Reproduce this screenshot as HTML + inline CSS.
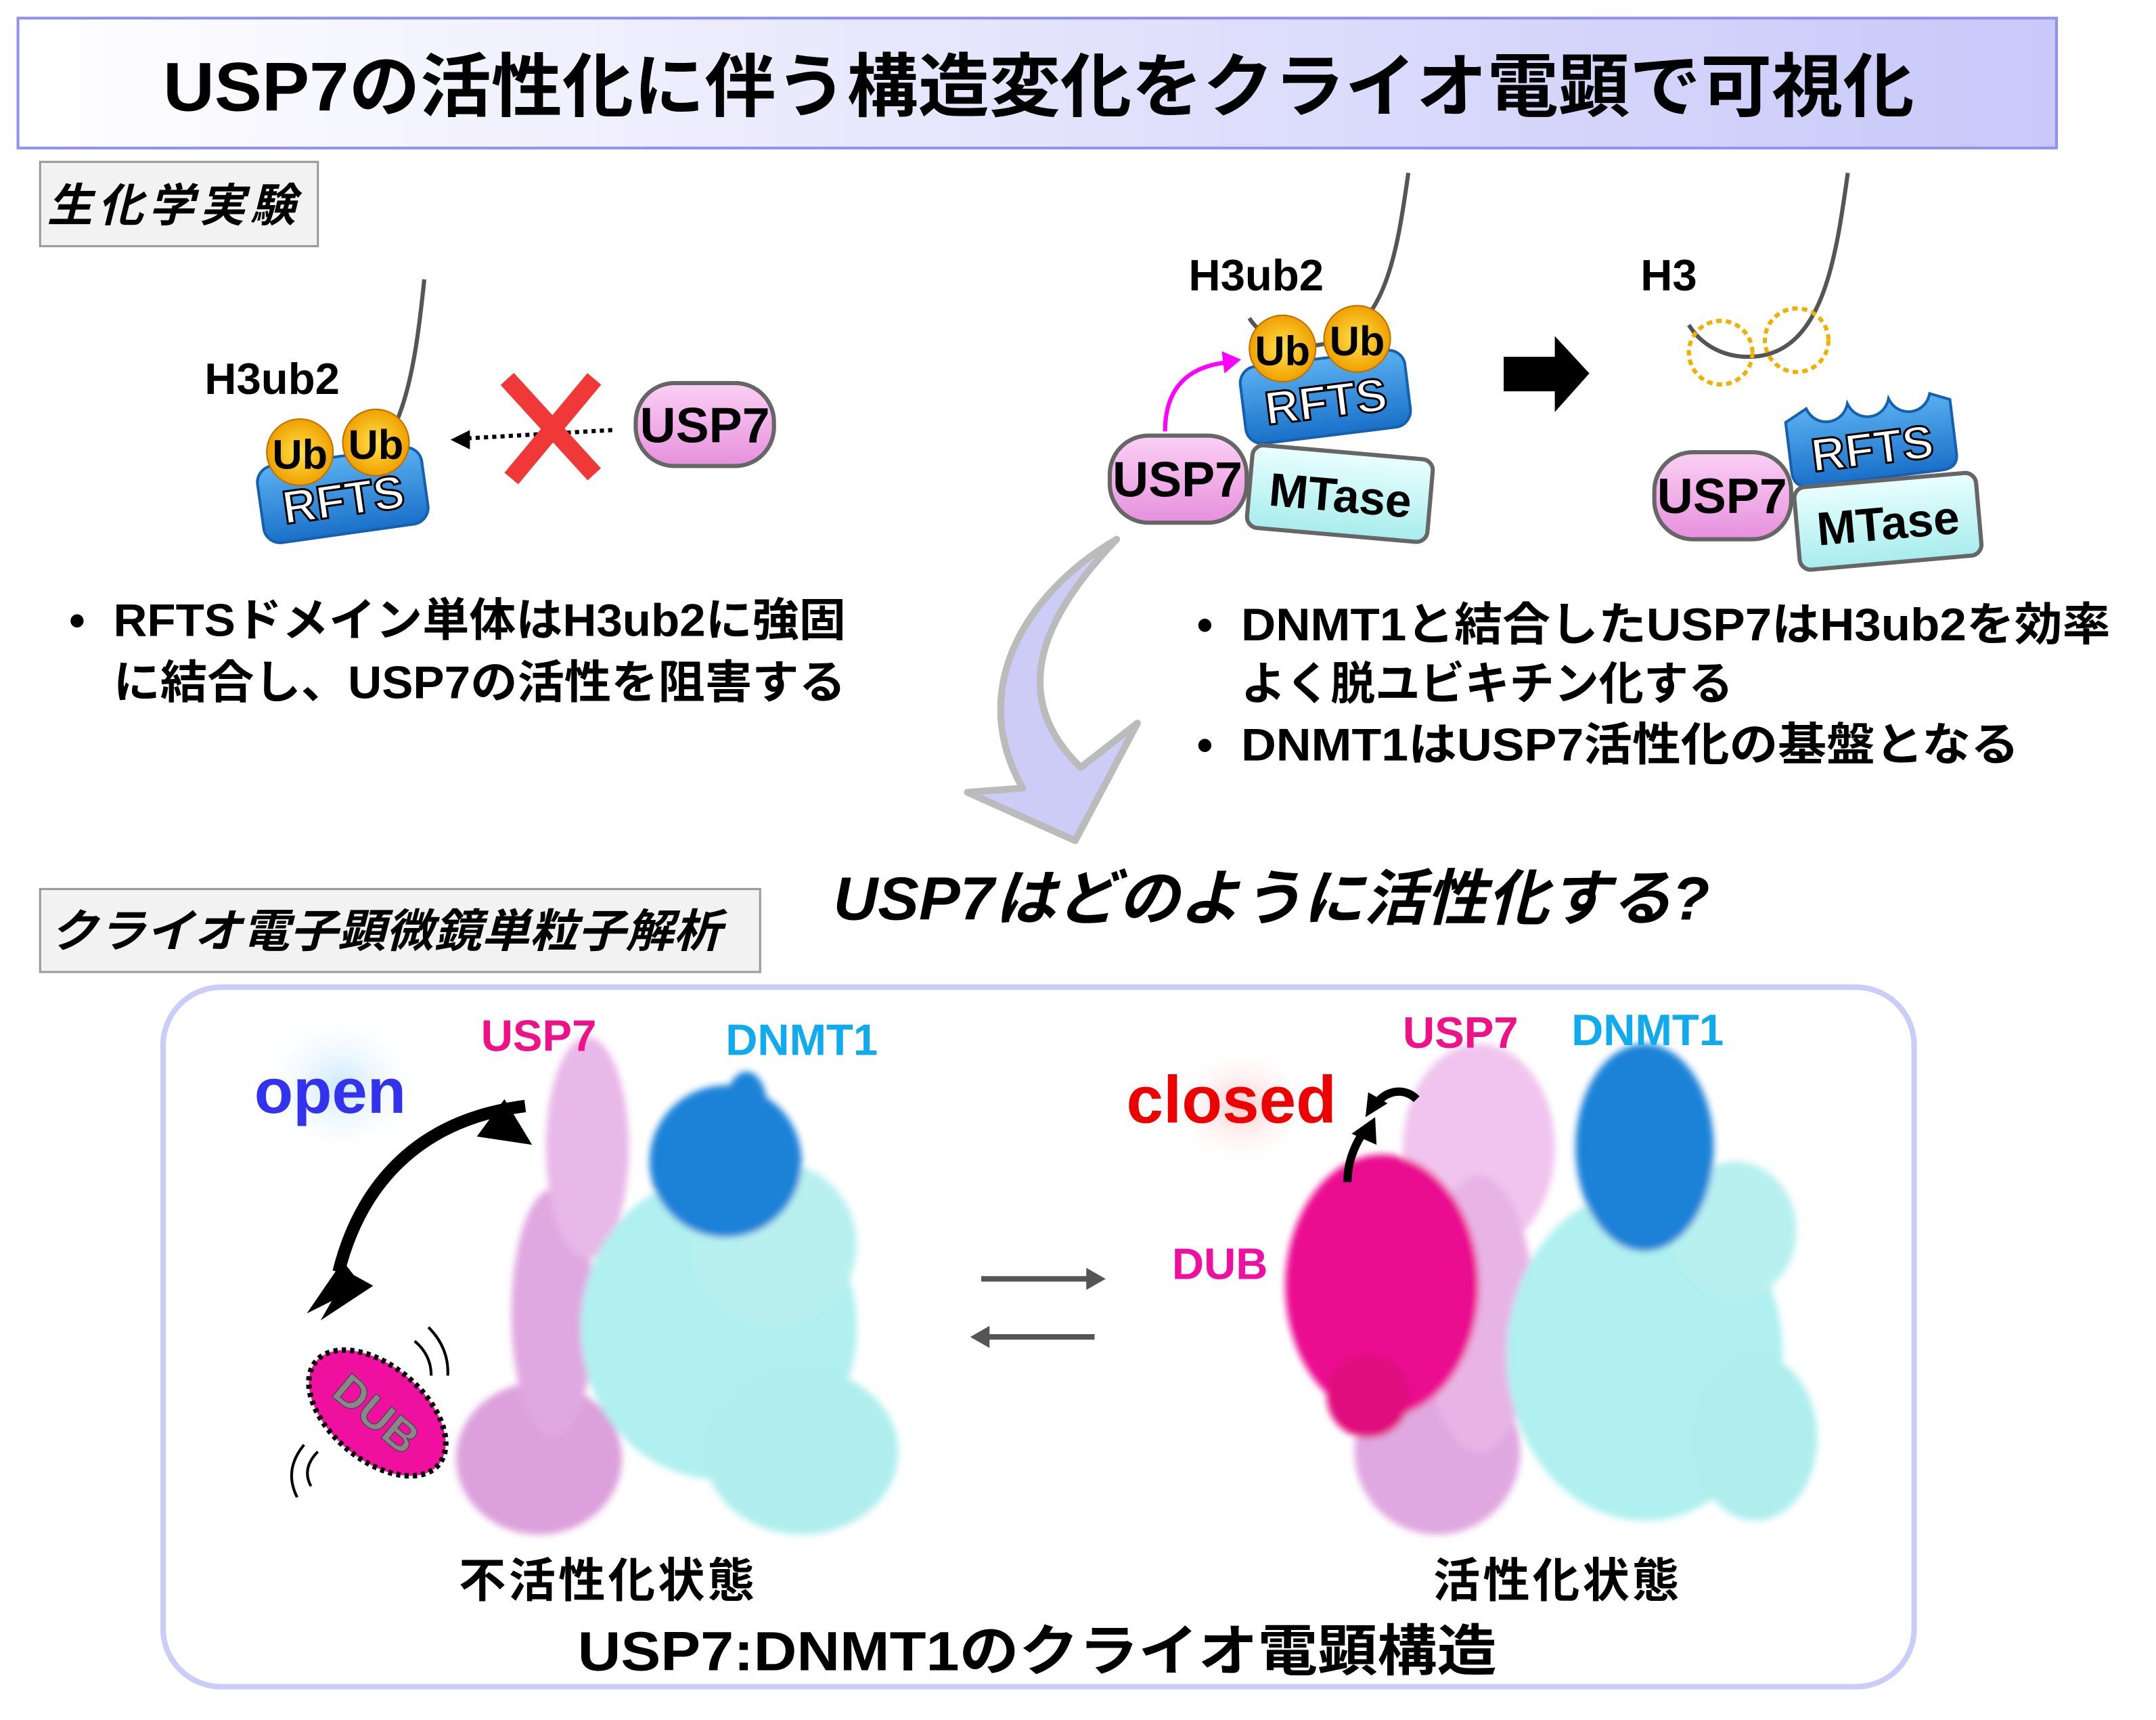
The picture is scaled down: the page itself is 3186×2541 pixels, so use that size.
<!DOCTYPE html>
<html><head><meta charset="utf-8">
<style>
html,body{margin:0;padding:0;background:#fff;}
svg{display:block;}
text{font-family:"Liberation Sans","Noto Sans CJK JP",sans-serif;font-weight:bold;}
</style></head>
<body>
<svg width="3186" height="2541" viewBox="0 0 1560 1244" xmlns="http://www.w3.org/2000/svg">
<defs>
<linearGradient id="tg" x1="0" y1="0" x2="1" y2="0"><stop offset="0" stop-color="#ffffff"/><stop offset="1" stop-color="#c8c8fa"/></linearGradient>
<linearGradient id="blue" x1="0" y1="0" x2="0" y2="1"><stop offset="0" stop-color="#5ab0f0"/><stop offset="1" stop-color="#1a70c8"/></linearGradient>
<linearGradient id="pink" x1="0" y1="0" x2="0" y2="1"><stop offset="0" stop-color="#fbd0f4"/><stop offset="1" stop-color="#e690dc"/></linearGradient>
<linearGradient id="cyan" x1="0" y1="0" x2="0" y2="1"><stop offset="0" stop-color="#eaffff"/><stop offset="1" stop-color="#a8ecec"/></linearGradient>
<radialGradient id="ub"><stop offset="0" stop-color="#ffe24a"/><stop offset="1" stop-color="#f0a000"/></radialGradient>
<radialGradient id="gb"><stop offset="0" stop-color="#cce8ff"/><stop offset="1" stop-color="#ffffff" stop-opacity="0"/></radialGradient>
<radialGradient id="gr"><stop offset="0" stop-color="#ffcccc"/><stop offset="1" stop-color="#ffffff" stop-opacity="0"/></radialGradient>
<filter id="bl"><feGaussianBlur stdDeviation="2.5"/></filter>
</defs>

<rect x="13" y="13" width="1475" height="94" fill="url(#tg)" stroke="#9090ee" stroke-width="2"/>
<text x="118" y="80" font-size="50" textLength="1267" lengthAdjust="spacingAndGlyphs">USP7の活性化に伴う構造変化をクライオ電顕で可視化</text>

<rect x="29" y="117" width="201" height="61" fill="#f2f2f2" stroke="#999" stroke-width="1.5"/>
<text x="34" y="160" font-size="33" font-style="italic" font-weight="normal" textLength="180">生化学実験</text>

<path d="M307,202 C300,270 290,345 237,345 C215,345 200,335 195,325" fill="none" stroke="#555" stroke-width="3"/>
<text x="148" y="285" font-size="32">H3ub2</text>
<g transform="rotate(-8 248 358)"><rect x="188" y="330" width="120" height="56" rx="12" fill="url(#blue)" stroke="#1560b0" stroke-width="2"/>
<text x="248" y="373" font-size="34" fill="#fff" stroke="#000" stroke-width="1.5" text-anchor="middle">RFTS</text></g>
<circle cx="217" cy="327" r="24" fill="url(#ub)" stroke="#c07000"/><circle cx="272" cy="320" r="24" fill="url(#ub)" stroke="#c07000"/>
<text x="217" y="339" font-size="30" text-anchor="middle">Ub</text><text x="272" y="332" font-size="30" text-anchor="middle">Ub</text>
<line x1="443" y1="311" x2="338" y2="317" stroke="#000" stroke-width="3" stroke-dasharray="3,3"/>
<polygon points="326,318 340,311 340,325" fill="#000"/>
<line x1="367" y1="274" x2="430" y2="343" stroke="#f03838" stroke-width="13"/>
<line x1="430" y1="274" x2="370" y2="346" stroke="#f03838" stroke-width="13"/>
<rect x="460" y="277" width="100" height="60" rx="28" fill="url(#pink)" stroke="#666" stroke-width="3"/>
<text x="510" y="320" font-size="36" text-anchor="middle">USP7</text>

<path d="M1019,125 C1010,190 1000,250 945,250 C925,250 910,240 904,230" fill="none" stroke="#555" stroke-width="3"/>
<text x="860" y="210" font-size="32">H3ub2</text>
<g transform="rotate(-7 959 287)"><rect x="899" y="259" width="120" height="56" rx="12" fill="url(#blue)" stroke="#1560b0" stroke-width="2"/>
<text x="959" y="302" font-size="34" fill="#fff" stroke="#000" stroke-width="1.5" text-anchor="middle">RFTS</text></g>
<circle cx="928" cy="252" r="24" fill="url(#ub)" stroke="#c07000"/><circle cx="982" cy="245" r="24" fill="url(#ub)" stroke="#c07000"/>
<text x="928" y="264" font-size="30" text-anchor="middle">Ub</text><text x="982" y="257" font-size="30" text-anchor="middle">Ub</text>
<path d="M843,312 C843,280 860,265 888,262" fill="none" stroke="#ff00ff" stroke-width="3"/>
<polygon points="898,260 884,254 886,270" fill="#ff00ff"/>
<g transform="rotate(5 970 357)"><rect x="904" y="327" width="131" height="60" rx="8" fill="url(#cyan)" stroke="#666" stroke-width="3"/>
<text x="970" y="370" font-size="34" text-anchor="middle">MTase</text></g>
<rect x="803" y="315" width="99" height="63" rx="28" fill="url(#pink)" stroke="#666" stroke-width="3"/>
<text x="852" y="359" font-size="36" text-anchor="middle">USP7</text>
<polygon points="1088,258 1125,258 1125,243 1150,270 1125,298 1125,283 1088,283" fill="#000"/>

<path d="M1337,125 C1328,190 1318,258 1265,258 C1245,258 1230,248 1222,235" fill="none" stroke="#555" stroke-width="3"/>
<text x="1187" y="210" font-size="32">H3</text>
<circle cx="1245" cy="255" r="23" fill="none" stroke="#f0b000" stroke-width="3" stroke-dasharray="4,3"/>
<circle cx="1300" cy="246" r="23" fill="none" stroke="#f0b000" stroke-width="3" stroke-dasharray="4,3"/>
<g transform="rotate(-7 1354 318)"><path d="M1294,298 L1310,290 C1315,305 1335,305 1340,290 C1345,305 1365,305 1370,290 C1375,305 1395,305 1400,290 L1414,296 L1414,335 Q1414,346 1402,346 L1306,346 Q1294,346 1294,334 Z" fill="url(#blue)" stroke="#1560b0" stroke-width="2"/>
<text x="1354" y="336" font-size="34" fill="#fff" stroke="#000" stroke-width="1.5" text-anchor="middle">RFTS</text></g>
<g transform="rotate(-5 1366 377)"><rect x="1300" y="347" width="132" height="60" rx="8" fill="url(#cyan)" stroke="#666" stroke-width="3"/>
<text x="1366" y="390" font-size="34" text-anchor="middle">MTase</text></g>
<rect x="1197" y="327" width="99" height="63" rx="28" fill="url(#pink)" stroke="#666" stroke-width="3"/>
<text x="1246" y="371" font-size="36" text-anchor="middle">USP7</text>

<g font-size="33">
<text x="50" y="460">•</text>
<text x="82" y="460" textLength="530" lengthAdjust="spacingAndGlyphs">RFTSドメイン単体はH3ub2に強固</text>
<text x="82" y="505" textLength="530" lengthAdjust="spacingAndGlyphs">に結合し、USP7の活性を阻害する</text>
<text x="866" y="463">•</text>
<text x="898" y="463" textLength="629" lengthAdjust="spacingAndGlyphs">DNMT1と結合したUSP7はH3ub2を効率</text>
<text x="898" y="506" textLength="356" lengthAdjust="spacingAndGlyphs">よく脱ユビキチン化する</text>
<text x="866" y="550">•</text>
<text x="898" y="550" textLength="563" lengthAdjust="spacingAndGlyphs">DNMT1はUSP7活性化の基盤となる</text>
</g>

<path d="M808,390 C760,440 725,500 782,555 L823,523 L778,608 L700,573 L740,570 C700,500 740,430 808,390 Z" fill="#ccccf6" stroke="#bbb" stroke-width="5" stroke-linejoin="round"/>

<text x="603" y="665" font-size="44" font-style="italic" textLength="634" lengthAdjust="spacingAndGlyphs">USP7はどのように活性化する?</text>
<rect x="29" y="643" width="521" height="60" fill="#f2f2f2" stroke="#999" stroke-width="1.5"/>
<text x="36" y="685" font-size="33" font-style="italic" font-weight="normal" textLength="486" lengthAdjust="spacingAndGlyphs">クライオ電子顕微鏡単粒子解析</text>

<rect x="118" y="714" width="1267" height="506" rx="42" fill="#fff" stroke="#ccccf8" stroke-width="4"/>

<g filter="url(#bl)">
<ellipse cx="390" cy="1055" rx="60" ry="55" fill="#dca0dc"/>
<ellipse cx="400" cy="950" rx="30" ry="90" fill="#e0a8e0"/>
<ellipse cx="425" cy="830" rx="30" ry="80" fill="#e8b8e8"/>
<ellipse cx="520" cy="960" rx="100" ry="110" fill="#b0f0f0"/>
<ellipse cx="580" cy="1050" rx="70" ry="60" fill="#b0eeee"/>
<ellipse cx="560" cy="900" rx="60" ry="60" fill="#b8f0f0"/>
<ellipse cx="525" cy="840" rx="55" ry="55" fill="#1a82d8"/>
<ellipse cx="540" cy="800" rx="15" ry="25" fill="#1a82d8"/>
</g>
<path d="M380,800 C300,810 260,860 245,920" fill="none" stroke="#000" stroke-width="9"/>
<polygon points="365,795 385,828 345,822" fill="#000"/>
<polygon points="222,950 248,912 262,930" fill="#000"/>
<polygon points="232,955 270,930 252,920" fill="#000"/>
<g transform="rotate(40 273 1022)"><ellipse cx="273" cy="1022" rx="58" ry="34" fill="#f010a0" stroke="#000" stroke-width="4" stroke-dasharray="3,3"/>
<text x="273" y="1034" font-size="32" fill="#888" stroke="#444" stroke-width="0.6" font-weight="normal" text-anchor="middle">DUB</text></g>
<path d="M300,970 q12,10 12,25 M310,960 q15,15 14,35" fill="none" stroke="#000" stroke-width="2"/>
<path d="M230,1050 q-12,12 -5,25 M220,1045 q-15,18 -5,38" fill="none" stroke="#000" stroke-width="2"/>
<ellipse cx="246" cy="785" rx="62" ry="55" fill="url(#gb)"/>
<text x="184" y="805" font-size="46" fill="#3333ee">open</text>
<text x="348" y="760" font-size="32" fill="#ee1188">USP7</text>
<text x="525" y="763" font-size="32" fill="#10aaee">DNMT1</text>

<line x1="710" y1="925" x2="790" y2="925" stroke="#555" stroke-width="4"/><polygon points="800,925 786,917 786,933" fill="#555"/>
<line x1="712" y1="967" x2="792" y2="967" stroke="#555" stroke-width="4"/><polygon points="702,967 716,959 716,975" fill="#555"/>

<g filter="url(#bl)">
<ellipse cx="1040" cy="1050" rx="60" ry="60" fill="#e0a8e0"/>
<ellipse cx="1070" cy="830" rx="55" ry="75" fill="#f0c4ee"/>
<ellipse cx="1070" cy="950" rx="40" ry="100" fill="#e8b4e6"/>
<ellipse cx="1000" cy="930" rx="70" ry="95" fill="#ea1090"/>
<ellipse cx="990" cy="1010" rx="30" ry="30" fill="#e0107e"/>
<ellipse cx="1190" cy="980" rx="100" ry="120" fill="#b0f0f0"/>
<ellipse cx="1270" cy="1040" rx="45" ry="60" fill="#b0eeee"/>
<ellipse cx="1255" cy="890" rx="45" ry="50" fill="#b8f0f0"/>
<ellipse cx="1190" cy="830" rx="50" ry="75" fill="#1a82d8"/>
</g>
<ellipse cx="898" cy="800" rx="55" ry="45" fill="url(#gr)"/>
<text x="815" y="812" font-size="48" fill="#ee0000">closed</text>
<path d="M975,855 C975,835 985,820 990,815" fill="none" stroke="#000" stroke-width="6"/>
<polygon points="995,808 978,820 996,828" fill="#000"/>
<path d="M1025,795 C1015,785 1000,790 995,800" fill="none" stroke="#000" stroke-width="6"/>
<polygon points="988,808 990,790 1004,798" fill="#000"/>
<text x="1015" y="758" font-size="32" fill="#ee1188">USP7</text>
<text x="1137" y="756" font-size="32" fill="#10aaee">DNMT1</text>
<text x="848" y="925" font-size="32" fill="#ee10a0">DUB</text>

<text x="332" y="1155" font-size="34" font-weight="normal" textLength="214">不活性化状態</text>
<text x="1037" y="1155" font-size="34" font-weight="normal" textLength="178">活性化状態</text>
<text x="418" y="1208" font-size="40" textLength="665" lengthAdjust="spacingAndGlyphs">USP7:DNMT1のクライオ電顕構造</text>
</svg>
</body></html>
